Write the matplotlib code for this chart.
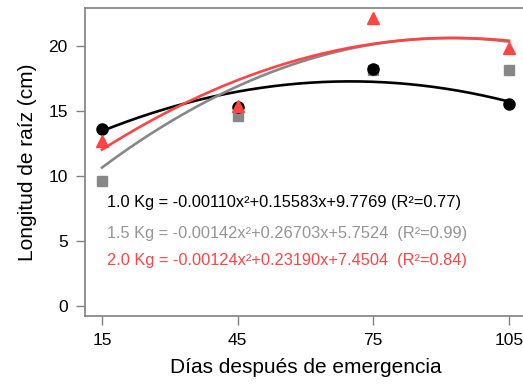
import numpy as np
import matplotlib
matplotlib.use('Agg')
from matplotlib import pyplot as plt

plt.rcParams['font.family'] = ['Liberation Sans', 'DejaVu Sans']

dias = [15, 45, 75, 105]
# mean values (points)
kg10 = [13.6, 15.3, 18.2, 15.5]
kg15 = [9.6, 14.6, 18.1, 18.1]
kg20 = [12.7, 15.4, 22.1, 19.8]

curve10 = [13.45, 16.45, 17.25, 15.7]
curve15 = [10.6, 17.0, 20.0, 20.35]
curve20 = [12.0, 17.4, 20.1, 20.4]

eq_labels = ['1.0 Kg = -0.00110x\u00b2+0.15583x+9.7769 (R\u00b2=0.77)',
             '1.5 Kg = -0.00142x\u00b2+0.26703x+5.7524  (R\u00b2=0.99)',
             '2.0 Kg = -0.00124x\u00b2+0.23190x+7.4504  (R\u00b2=0.84)']

black = '#000000'
gray = '#878787'
red = '#FF4444'

fig = plt.figure(figsize=(5.23, 3.88), dpi=100)
ax = fig.add_axes([85/523, 72/388, (527-85)/523, (316-8)/388])

xx = np.linspace(15, 105, 200)
for yy, col in [(curve10, black), (curve15, gray), (curve20, red)]:
    cf = np.polyfit(dias, yy, 2)
    ax.plot(xx, np.polyval(cf, xx), color=col, lw=1.9, zorder=2)

ax.plot(dias, kg15, 's', color=gray, ms=7, zorder=3)
ax.plot(dias, kg10, 'o', color=black, ms=8, zorder=4)
ax.plot(dias, kg20, '^', color=red, ms=8.5, zorder=5)

tcols = [black, '#959595', red]
ty = [7.92, 5.6, 3.46]
for lab, c, y in zip(eq_labels, tcols, ty):
    ax.text(16.1, y, lab, color=c, fontsize=11.8, va='center', ha='left')

ax.set_xlim(11.24, 109)
ax.set_ylim(-0.77, 22.9)
ax.set_xticks(dias)
ax.set_yticks([0, 5, 10, 15, 20])
ax.tick_params(labelsize=12.5, length=6.5, color='#808080', width=1, pad=6)
for s in ax.spines.values():
    s.set_color('#808080')
    s.set_linewidth(1.2)
ax.set_xlabel('Días después de emergencia', fontsize=15, labelpad=7)
ax.set_ylabel('Longitud de raíz (cm)', fontsize=15, labelpad=8)

fig.savefig('out.png', dpi=100)
